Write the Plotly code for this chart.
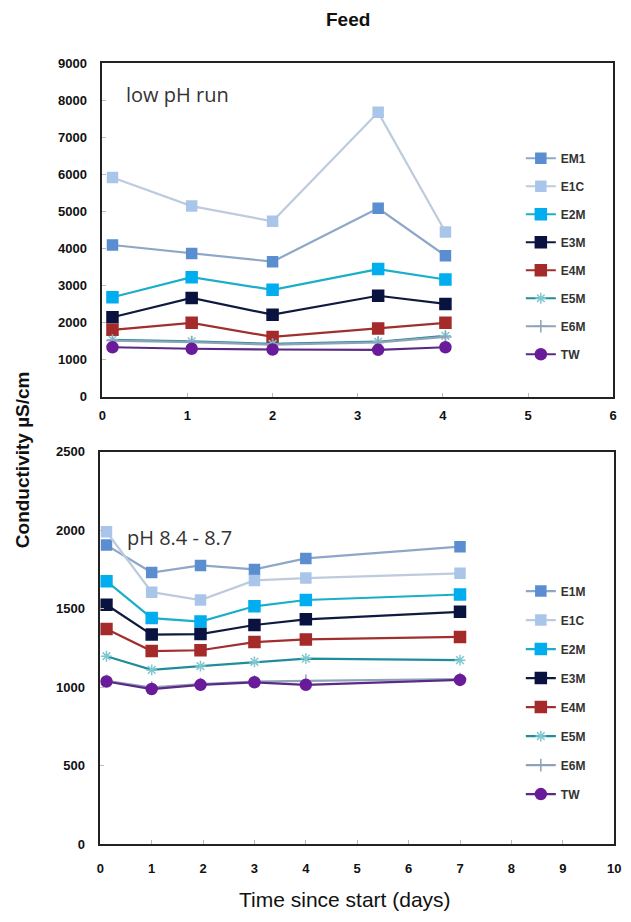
import plotly.graph_objects as go

# ---------- data ----------
series_top = ["EM1", "E1C", "E2M", "E3M", "E4M", "E5M", "E6M", "TW"]
x_top = [0.12, 1.05, 2.0, 3.24, 4.03]
EM1_top = [4090, 3860, 3640, 5080, 3800]
E1C_top = [5910, 5140, 4730, 7670, 4440]
E2M_top = [2680, 3220, 2880, 3440, 3160]
E3M_top = [2140, 2660, 2210, 2720, 2500]
E4M_top = [1800, 1990, 1610, 1840, 1990]
E5M_top = [1530, 1490, 1420, 1480, 1640]
E6M_top = [1510, 1470, 1400, 1460, 1610]
TW_top = [1330, 1290, 1270, 1260, 1330]

series_bot = ["E1M", "E1C", "E2M", "E3M", "E4M", "E5M", "E6M", "TW"]
x_bot = [0.12, 1.0, 1.95, 3.0, 4.0, 7.0]
E1M_bot = [1905, 1730, 1775, 1750, 1820, 1895]
E1C_bot = [1990, 1605, 1555, 1680, 1695, 1725]
E2M_bot = [1675, 1440, 1418, 1515, 1555, 1590]
E3M_bot = [1525, 1335, 1338, 1396, 1432, 1480]
E4M_bot = [1370, 1230, 1235, 1287, 1304, 1320]
E5M_bot = [1197, 1110, 1134, 1161, 1182, 1172]
E6M_bot = [1040, 998, 1020, 1035, 1040, 1052]
TW_bot = [1036, 988, 1015, 1031, 1015, 1046]

y_top = [EM1_top, E1C_top, E2M_top, E3M_top, E4M_top, E5M_top, E6M_top, TW_top]
y_bot = [E1M_bot, E1C_bot, E2M_bot, E3M_bot, E4M_bot, E5M_bot, E6M_bot, TW_bot]

# ---------- styles ----------
line_colors = ["#8EA7C8", "#BDCBDD", "#1AAFC9", "#0E1A3F", "#A12F2E", "#1F8E9C", "#8FA3B8", "#5B2A86"]
marker_colors = ["#5B8ED0", "#A9C6EA", "#00AEEF", "#0A1240", "#A52A2A", "#7FC8D0", "#8FA3B8", "#6A1B9A"]
symbols = ["square", "square", "square", "square", "square", "asterisk-open", "cross-thin-open", "circle"]
sizes = [10, 10, 11, 11, 11, 9, 9, 11]

fig = go.Figure()

def add_series(names, xs, ys, xa, ya, leg, prefix):
    for i, (n, yv) in enumerate(zip(names, ys)):
        fig.add_trace(go.Scatter(
            x=xs, y=yv, name=n, mode="lines+markers",
            xaxis=xa, yaxis=ya, legend=leg, legendgroup=prefix + n,
            line=dict(color=line_colors[i], width=2.2),
            marker=dict(symbol=symbols[i], size=sizes[i], color=marker_colors[i],
                        line=dict(color=marker_colors[i], width=1.5)),
        ))

add_series(series_top, x_top, y_top, "x", "y", "legend", "t")
add_series(series_bot, x_bot, y_bot, "x2", "y2", "legend2", "b")

W, H = 631, 922
def px_x(p): return p / W
def px_y(p): return 1 - p / H

tickfont_b = dict(family="Liberation Sans", size=13, color="#111", weight="bold")
axis_common = dict(showgrid=False, zeroline=False, showline=True, linecolor="#222",
                   linewidth=1.5, mirror=True, ticks="inside", ticklen=4,
                   tickcolor="#bbb", tickfont=tickfont_b)

legfont = dict(family="Liberation Sans", size=12, color="#333", weight="bold")

fig.update_layout(
    width=W, height=H, margin=dict(l=0, r=0, t=0, b=0),
    paper_bgcolor="white", plot_bgcolor="white", showlegend=True,
    xaxis=dict(axis_common, domain=[px_x(100), px_x(620)], range=[0, 6], dtick=1,
               anchor="y", ticklabelstandoff=6),
    yaxis=dict(axis_common, domain=[px_y(396), px_y(57)], range=[0, 9000], dtick=1000,
               anchor="x", ticklabelstandoff=11),
    xaxis2=dict(axis_common, domain=[px_x(98), px_x(621)], range=[0, 10], dtick=1,
                anchor="y2", ticklabelstandoff=11),
    yaxis2=dict(axis_common, domain=[px_y(851), px_y(452)], range=[0, 2500], dtick=500,
                anchor="x2", ticklabelstandoff=11),
    legend=dict(x=px_x(526), y=px_y(139), xanchor="left", yanchor="top",
                traceorder="grouped", tracegroupgap=9, itemwidth=30,
                font=legfont, bgcolor="rgba(0,0,0,0)"),
    legend2=dict(x=px_x(526), y=px_y(579), xanchor="left", yanchor="top",
                 traceorder="grouped", tracegroupgap=10, itemwidth=30,
                 font=legfont, bgcolor="rgba(0,0,0,0)"),
    annotations=[
        dict(text="<b>Feed</b>", x=px_x(350), y=px_y(13), xref="paper", yref="paper",
             xanchor="center", yanchor="middle", showarrow=False,
             font=dict(family="Liberation Sans", size=19, color="#111")),
        dict(text="low pH run", x=px_x(122), y=px_y(89), xref="paper", yref="paper",
             xanchor="left", yanchor="middle", showarrow=False,
             font=dict(family="Open Sans", size=20, color="#333")),
        dict(text="pH 8.4 - 8.7", x=px_x(123), y=px_y(539), xref="paper", yref="paper",
             xanchor="left", yanchor="middle", showarrow=False,
             font=dict(family="Open Sans", size=20, color="#333")),
        dict(text="<b>Conductivity µS/cm</b>", x=px_x(19), y=px_y(460), xref="paper", yref="paper",
             textangle=-90, xanchor="center", yanchor="middle", showarrow=False,
             font=dict(family="Liberation Sans", size=19, color="#111")),
        dict(text="Time since start (days)", x=px_x(347), y=px_y(907), xref="paper", yref="paper",
             xanchor="center", yanchor="middle", showarrow=False,
             font=dict(family="Liberation Sans", size=21, color="#111")),
    ],
)

fig.write_html("out.html")
